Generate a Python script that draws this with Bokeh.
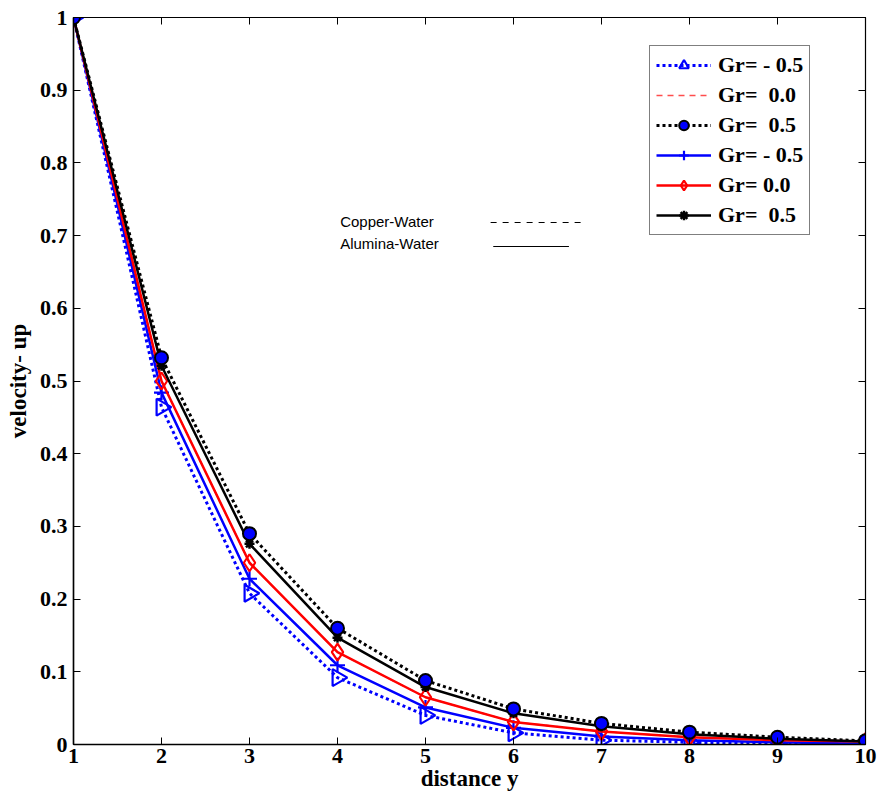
import numpy as np
from bokeh.plotting import figure
from bokeh.models import (Legend, LegendItem, LinearAxis, FixedTicker, Range1d, Label,
                          CustomJSTickFormatter)
from bokeh.embed import file_html
from bokeh.resources import INLINE

# ---------------- data ----------------
y_dist = [1, 2, 3, 4, 5, 6, 7, 8, 9, 10]

cu_gr_m05 = [1.0, 0.464, 0.208, 0.092, 0.040, 0.016, 0.006, 0.003, 0.001, 0.000]
cu_gr_00  = [1.0, 0.500, 0.250, 0.127, 0.065, 0.031, 0.018, 0.010, 0.006, 0.004]
cu_gr_05  = [1.0, 0.532, 0.290, 0.160, 0.088, 0.049, 0.029, 0.017, 0.010, 0.005]
al_gr_m05 = [1.0, 0.484, 0.228, 0.109, 0.051, 0.023, 0.011, 0.006, 0.003, 0.001]
al_gr_00  = [1.0, 0.500, 0.250, 0.127, 0.065, 0.031, 0.018, 0.010, 0.006, 0.004]
al_gr_05  = [1.0, 0.521, 0.276, 0.147, 0.079, 0.043, 0.025, 0.014, 0.008, 0.004]

legend_labels = ["Gr= - 0.5", "Gr=  0.0", "Gr=  0.5", "Gr= - 0.5", "Gr= 0.0", "Gr=  0.5"]

x_ticks = [1, 2, 3, 4, 5, 6, 7, 8, 9, 10]
y_ticks = [0, 0.1, 0.2, 0.3, 0.4, 0.5, 0.6, 0.7, 0.8, 0.9, 1.0]
y_tick_labels = ["0", "0.1", "0.2", "0.3", "0.4", "0.5", "0.6", "0.7", "0.8", "0.9", "1"]

note_texts = ["Copper-Water", "Alumina-Water"]
note_x = [4.03, 4.03]
note_y = [0.719, 0.689]
note_line_x0 = [5.74, 5.77]
note_line_x1 = [6.80, 6.63]
note_line_y = [0.718, 0.685]

# ---------------- figure ----------------
SERIF = "Liberation Serif"
p = figure(width=880, height=803, output_backend="svg", toolbar_location=None,
           x_range=Range1d(1, 10), y_range=Range1d(0, 1),
           min_border_left=73, min_border_right=15, min_border_top=17, min_border_bottom=59)
p.background_fill_color = "white"
p.border_fill_color = "white"
p.outline_line_color = "black"
p.outline_line_width = 1.2
p.xgrid.visible = False
p.ygrid.visible = False

for ax in (p.xaxis[0], p.yaxis[0]):
    ax.major_tick_in = 7
    ax.major_tick_out = 0
    ax.minor_tick_in = 0
    ax.minor_tick_out = 0
    ax.axis_line_color = "black"
    ax.axis_line_width = 1.5
    ax.major_label_text_font = SERIF
    ax.major_label_text_font_style = "bold"
    ax.major_label_text_font_size = "22px"
    ax.major_label_text_color = "black"
    ax.axis_label_text_font = SERIF
    ax.axis_label_text_font_style = "bold"
    ax.axis_label_text_font_size = "23px"
    ax.axis_label_text_color = "black"

p.xaxis[0].ticker = FixedTicker(ticks=x_ticks)
p.yaxis[0].ticker = FixedTicker(ticks=y_ticks)
p.yaxis[0].major_label_overrides = {t: l for t, l in zip(y_ticks, y_tick_labels)}
p.xaxis[0].axis_label = "distance y"
p.yaxis[0].axis_label = "velocity- up"
p.xaxis[0].major_label_standoff = 4
p.xaxis[0].axis_label_standoff = 0
p.yaxis[0].major_label_standoff = 6
p.yaxis[0].axis_label_standoff = 6

# mirror ticks on right / top (no labels)
blank = CustomJSTickFormatter(code="return ''")
rax = LinearAxis(ticker=FixedTicker(ticks=y_ticks), formatter=blank, major_tick_in=7, major_tick_out=0,
                 minor_tick_in=0, minor_tick_out=0, major_label_standoff=0, axis_line_color="black")
tax = LinearAxis(ticker=FixedTicker(ticks=x_ticks), formatter=blank, major_tick_in=7, major_tick_out=0,
                 minor_tick_in=0, minor_tick_out=0, major_label_standoff=0, axis_line_color="black")
p.add_layout(rax, "right")
p.add_layout(tax, "above")

# ---------------- series ----------------
# Copper-water
l_cu_m05 = p.line(y_dist, cu_gr_m05, line_color="blue", line_width=3, line_dash="3 3")
m_cu_m05 = p.scatter(y_dist, cu_gr_m05, marker="triangle", angle=-np.pi / 2, size=17,
                     line_color="blue", line_width=2.2, fill_color=None)
l_cu_00 = p.line(y_dist, cu_gr_00, line_color="#ff4d4d", line_width=1.6, line_dash="6 5")

# Alumina-water
l_al_m05 = p.line(y_dist, al_gr_m05, line_color="blue", line_width=2.5)
m_al_m05 = p.scatter(y_dist, al_gr_m05, marker="cross", size=15, line_color="blue", line_width=2.2)
l_al_00 = p.line(y_dist, al_gr_00, line_color="red", line_width=2.5)
m_al_00 = p.scatter(y_dist, al_gr_00, marker="diamond", size=17, line_color="red",
                    line_width=2.2, fill_color=None)
l_al_05 = p.line(y_dist, al_gr_05, line_color="black", line_width=2.5)
m_al_05 = p.scatter(y_dist, al_gr_05, marker="asterisk", size=10, line_color="black", line_width=2.5)

l_cu_05 = p.line(y_dist, cu_gr_05, line_color="black", line_width=3, line_dash="3 3")
m_cu_05 = p.scatter(y_dist, cu_gr_05, marker="circle", size=13, line_color="black",
                    line_width=2, fill_color="blue")

items = [
    LegendItem(label=legend_labels[0], renderers=[l_cu_m05, m_cu_m05]),
    LegendItem(label=legend_labels[1], renderers=[l_cu_00]),
    LegendItem(label=legend_labels[2], renderers=[l_cu_05, m_cu_05]),
    LegendItem(label=legend_labels[3], renderers=[l_al_m05, m_al_m05]),
    LegendItem(label=legend_labels[4], renderers=[l_al_00, m_al_00]),
    LegendItem(label=legend_labels[5], renderers=[l_al_05, m_al_05]),
]
legend = Legend(items=items, location=(576, 509), orientation="vertical",
                label_text_font=SERIF, label_text_font_style="bold",
                label_text_font_size="22px", label_text_color="black",
                glyph_width=55, glyph_height=24, label_height=24, label_standoff=7,
                spacing=4, padding=6, margin=0,
                border_line_color="black", border_line_width=1.2,
                background_fill_color="white", background_fill_alpha=1.0)
p.add_layout(legend, "center")

# ---------------- annotation ----------------
for t, xx, yy in zip(note_texts, note_x, note_y):
    p.add_layout(Label(x=xx, y=yy, text=t, text_font="Liberation Sans",
                       text_font_size="15px", text_baseline="middle", text_color="black"))
p.segment(x0=[note_line_x0[0]], y0=[note_line_y[0]], x1=[note_line_x1[0]], y1=[note_line_y[0]],
          line_color="black", line_width=1, line_dash="6 6")
p.segment(x0=[note_line_x0[1]], y0=[note_line_y[1]], x1=[note_line_x1[1]], y1=[note_line_y[1]],
          line_color="black", line_width=1)

open("out.html", "w").write(file_html(p, INLINE))
